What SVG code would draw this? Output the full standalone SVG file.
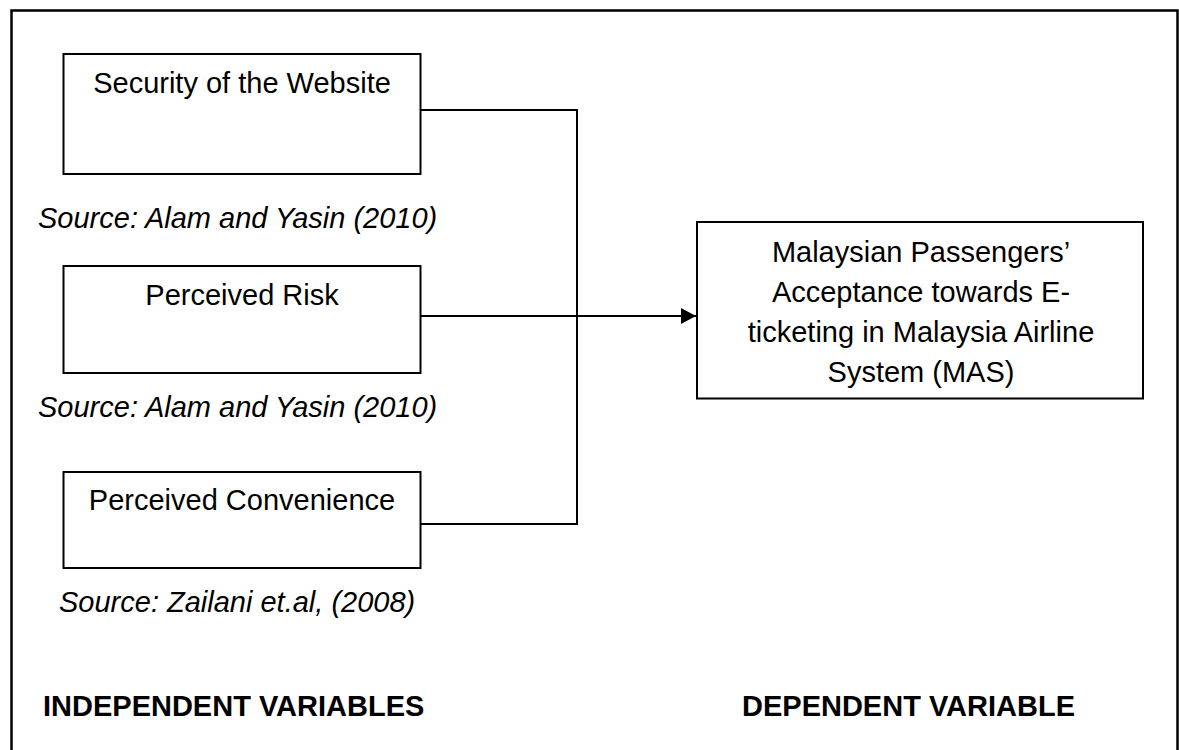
<svg xmlns="http://www.w3.org/2000/svg" width="1179" height="750" viewBox="0 0 1179 750">
<style>
.box{fill:#fff;stroke:#000;stroke-width:2}
.con{fill:none;stroke:#000;stroke-width:2}
.t{font-family:"Liberation Sans",Arial,sans-serif;font-size:29px;fill:#000}
.c{text-anchor:middle}
.i{font-style:italic}
.b{font-weight:bold}
</style>
<defs>
<marker id="arr" markerUnits="userSpaceOnUse" markerWidth="16" markerHeight="16" refX="15" refY="8" orient="auto">
<path d="M0,0 L15,8 L0,16 Z" fill="#000"/>
</marker>
</defs>
<rect width="1179" height="750" fill="#fff"/>
<rect id="frame" x="11.5" y="10.5" width="1166" height="760" fill="none" stroke="#000" stroke-width="2.5"/>
<g id="connectors">
<path class="con" d="M421,110 H577 V524 H421"/>
<path class="con" d="M421,316 H696" marker-end="url(#arr)"/>
</g>
<g id="node-security">
<rect class="box" x="63.5" y="54" width="357" height="120"/>
<text class="t c" x="242" y="93">Security of the Website</text>
</g>
<text id="src1" class="t i" x="38" y="228">Source: Alam and Yasin (2010)</text>
<g id="node-risk">
<rect class="box" x="63.5" y="266" width="357" height="107"/>
<text class="t c" x="242" y="305">Perceived Risk</text>
</g>
<text id="src2" class="t i" x="38" y="417">Source: Alam and Yasin (2010)</text>
<g id="node-convenience">
<rect class="box" x="63.5" y="472" width="357" height="96"/>
<text class="t c" x="242" y="510">Perceived Convenience</text>
</g>
<text id="src3" class="t i" x="59" y="612">Source: Zailani et.al, (2008)</text>
<g id="node-acceptance">
<rect class="box" x="697" y="222" width="446" height="176.5"/>
<text class="t c" x="921" y="262">Malaysian Passengers’</text>
<text class="t c" x="921" y="302">Acceptance towards E-</text>
<text class="t c" x="921" y="342">ticketing in Malaysia Airline</text>
<text class="t c" x="921" y="382">System (MAS)</text>
</g>
<text id="lbl-independent" class="t b" x="43" y="716">INDEPENDENT VARIABLES</text>
<text id="lbl-dependent" class="t b" x="742" y="716">DEPENDENT VARIABLE</text>
</svg>
